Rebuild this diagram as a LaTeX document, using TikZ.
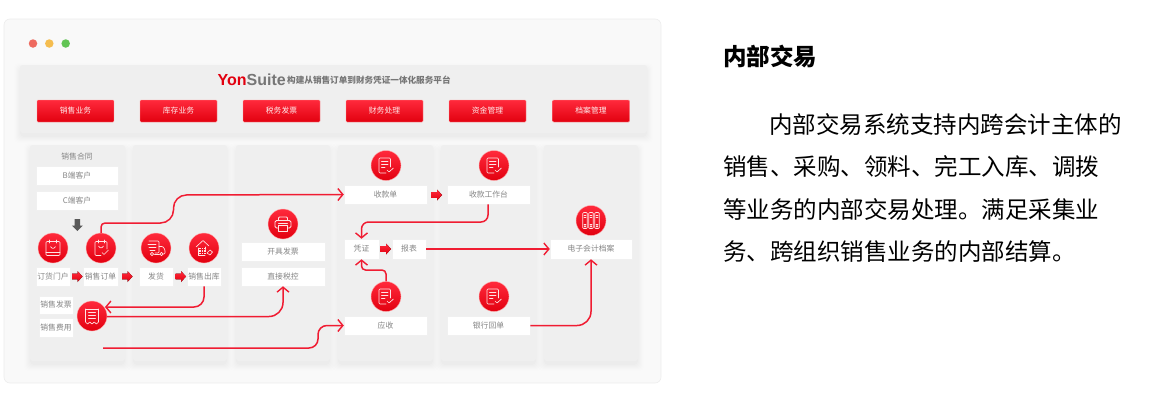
\documentclass[tikz,border=0pt]{standalone}
\usepackage{fontspec}
\setmainfont{Noto Sans CJK SC}
\newfontfamily\logofont{Liberation Sans}
\usetikzlibrary{arrows.meta,calc}
\definecolor{cardbg}{HTML}{F9F9F9}
\definecolor{cardln}{HTML}{EDEDED}
\definecolor{panelbg}{HTML}{EFEFEF}
\definecolor{lbl}{HTML}{858585}
\definecolor{redtop}{HTML}{FF2A3C}
\definecolor{redbot}{HTML}{E2000F}
\definecolor{connred}{HTML}{F01C32}
\definecolor{logogray}{HTML}{767676}
\definecolor{dotr}{HTML}{EE6A5F}
\definecolor{doty}{HTML}{F5BD4F}
\definecolor{dotg}{HTML}{61C454}
\newcommand\fs[1]{\fontsize{#1}{#1}\selectfont}
\tikzset{
  panel/.style={rectangle,rounded corners=2.5pt,fill=panelbg,inner sep=0pt},
  wbox/.style={rectangle,fill=white,draw=black!6,line width=.5pt,inner sep=0pt,text=lbl,font=\fs{7.8}},
  redbtn/.style={rectangle,rounded corners=1pt,top color=redtop,bottom color=redbot,draw=red!40!white,line width=.4pt,inner sep=0pt,text=white!92!red,font=\fs{7.8},minimum width=77pt,minimum height=22pt},
  rcirc/.style={circle,top color=redtop,bottom color=redbot,draw=red!30!white,line width=.4pt,inner sep=0pt,minimum size=30pt},
  conn/.style={draw=connred,line width=1.5pt,-{Straight Barb[length=5pt,width=12pt,line width=1.4pt]}},
  icon/.style={draw=white!90!red,line width=.65pt,line cap=round,line join=round},
  para/.style={anchor=west,inner sep=0pt,text=black,font=\fs{23.5}},
  dot/.style={circle,inner sep=0pt,minimum size=8.5pt},
}
% soft shadow under a panel
\newcommand\softshadow[4]{%
  \foreach \e/\o in {6/.004,5/.005,4/.006,3/.007,2/.008,1/.009,0/.01}{%
    \fill[black,opacity=\o,rounded corners=4pt] ($(#1-\e,#2-\e+4)$) rectangle ($(#3+\e,#4+\e+4)$);
  }}
\newcommand\panelbox[5]{%
  \softshadow{#2}{#3}{#4}{#5}%
  \node[panel,minimum width={#4-#2},minimum height={#5-#3}] (#1) at ({(#2+#4)/2},{(#3+#5)/2}) {};}
\newcommand\bx[6]{\node[wbox,minimum width={#4-#2},minimum height={#5-#3}] (#1) at ({(#2+#4)/2},{(#3+#5)/2}) {#6};}
\newcommand\blockarrow[2]{%
  \fill[top color=redtop,bottom color=redbot,draw=none] (#1,#2-2.8) -- (#1+5.5,#2-2.8) -- (#1+5.5,#2-5.5) -- (#1+10.5,#2) -- (#1+5.5,#2+5.5) -- (#1+5.5,#2+2.8) -- (#1,#2+2.8) -- cycle;}
% icons
\newcommand\icdoc[1]{\begin{scope}[shift={(#1.center)},icon]
  \draw[rounded corners=1pt] (4.5,1.5) -- (4.5,-7.5) -- (-7,-7.5) -- (-7,7.5) -- (0,7.5);
  \draw (-4.5,-4.2)--(2,-4.2) (-4.5,-1.2)--(2,-1.2) (-4.5,1.8)--(-1,1.8);
  \draw (1,4.5)--(3,6.5)--(7.5,2.5);
\end{scope}}
\newcommand\icnote[1]{\begin{scope}[shift={(#1.center)},icon]
  \draw[rounded corners=1pt] (-7,-6.5) rectangle (7,7.5);
  \draw (-3.5,-8)--(-3.5,-5) (3.5,-8)--(3.5,-5);
  \draw (-2.5,-1.5) .. controls (-1,1) and (1,1) .. (2.5,-1.5);
  \draw (-7,4.5)--(7,4.5);
\end{scope}}
\newcommand\icnotecheck[1]{\begin{scope}[shift={(#1.center)},icon]
  \draw[rounded corners=1pt] (6,1) -- (6,-6.5) -- (-6,-6.5) -- (-6,7.5) -- (0,7.5);
  \draw (-3,-8)--(-3,-5) (3,-8)--(3,-5);
  \draw (-2.5,-2) .. controls (-1,.5) and (1,.5) .. (2.5,-2);
  \draw (1,4.5)--(3,6.5)--(7.5,2);
\end{scope}}
\newcommand\ictruck[1]{\begin{scope}[shift={(#1.center)},icon]
  \draw[rounded corners=1pt] (-7,-7) -- (3,-7) -- (3,5) -- (-1,5);
  \draw[rounded corners=1pt] (3,-1.5) -- (7,-1.5) -- (9,2) -- (9,6) -- (7.5,6);
  \draw (-8,-3.5)--(0,-3.5) (-7,-.5)--(0,-.5) (-6,2.5)--(-1,2.5);
  \draw (-4,6) circle (1.7) (5.5,6) circle (1.7);
  \draw (-1.5,6)--(3.5,6);
\end{scope}}
\newcommand\ichouse[1]{\begin{scope}[shift={(#1.center)},icon]
  \draw (-8,-1) -- (-1,-7.5) -- (5,-2);
  \draw (-6,0) -- (-6,7.5) -- (1,7.5);
  \draw (1.5,-1) -- (1.5,1.5);
  \foreach \x in {-4,-1.5,1}{\foreach \y in {.5,3,5.5}{\fill[white!90!red] (\x-.7,\y-.7) rectangle (\x+.7,\y+.7);}}
  \draw (3,5) -- (6,2) -- (8.5,4) -- (6,7) -- cycle;
\end{scope}}
\newcommand\icprinter[1]{\begin{scope}[shift={(#1.center)},icon,line width=.9pt]
  \draw[rounded corners=1pt] (-4.5,-3.5) -- (-4.5,-7) -- (4.5,-7) -- (4.5,-3.5);
  \draw[rounded corners=1.5pt] (-4.5,4) -- (-8,4) -- (-8,-3.5) -- (8,-3.5) -- (8,4) -- (4.5,4);
  \draw (-4.5,1) rectangle (4.5,7);
  \draw (-4.5,-.5)--(4.5,-.5);
\end{scope}}
\newcommand\icreceipt[1]{\begin{scope}[shift={(#1.center)},icon]
  \draw (-6.5,-7) -- (6.5,-7);
  \draw (-6.5,-7) -- (-6.5,6) -- (-4.5,8) -- (-2.2,6) -- (0,8) -- (2.2,6) -- (4.5,8) -- (6.5,6) -- (6.5,-7);
  \draw (-3.5,-3.5)--(3.5,-3.5) (-3.5,-.5)--(3.5,-.5) (-3.5,2.5)--(3.5,2.5);
\end{scope}}
\newcommand\icbinder[1]{\begin{scope}[shift={(#1.center)},icon]
  \foreach \x in {-6,0,6}{
    \draw[rounded corners=1pt] (\x-2.3,-8) rectangle (\x+2.3,8);
    \draw (\x-1,-5)--(\x+1,-5) (\x-1,-3)--(\x+1,-3) (\x-1,3.5)--(\x+1,3.5);
    \draw (\x,5.8) circle (.8);
  }
\end{scope}}
\begin{document}
\begin{tikzpicture}[x=1pt,y=-1pt]
\useasboundingbox (0,0) rectangle (1159,415);
\fill[white] (0,0) rectangle (1159,415);
% outer card
\node[rectangle,rounded corners=6pt,fill=cardbg,draw=cardln,line width=.6pt,inner sep=0pt,minimum width=657pt,minimum height=364pt] (card) at (332.5,201) {};
\node[dot,fill=dotr] (d1) at (33,43.5) {};
\node[dot,fill=doty] (d2) at (49.3,43.5) {};
\node[dot,fill=dotg] (d3) at (65.7,43.5) {};
% columns
\panelbox{p1}{30}{145}{125}{361}
\panelbox{p2}{133}{145}{227}{361}
\panelbox{p3}{236}{145}{330}{361}
\panelbox{p4}{338}{145}{433}{361}
\panelbox{p5}{441}{145}{536}{361}
\panelbox{p6}{544}{145}{638}{361}
% header
\panelbox{hd}{20}{65}{647}{133}
\node[inner sep=0pt,anchor=west,font=\logofont\bfseries\fs{16}] (logo) at (217.5,80) {\textcolor{redbot}{Yon}\textcolor{logogray}{Suite}};
\node[inner sep=0pt,anchor=west,font=\bfseries\fs{8.6},text=logogray] (hdt) at (287,80.5) {构建从销售订单到财务凭证一体化服务平台};
\node[redbtn] (b1) at (75.5,111) {销售业务};
\node[redbtn] (b2) at (178.5,111) {库存业务};
\node[redbtn] (b3) at (281.5,111) {税务发票};
\node[redbtn] (b4) at (384.5,111) {财务处理};
\node[redbtn] (b5) at (487.5,111) {资金管理};
\node[redbtn] (b6) at (591,111) {档案管理};
% column 1
\node[inner sep=0pt,text=lbl,font=\fs{7.8}] (ht) at (77,157) {销售合同};
\bx{kb}{36}{166}{118}{185}{B端客户}
\bx{kc}{36}{191}{118}{210}{C端客户}
\fill[black!65] (74.5,219) -- (80.2,219) -- (80.2,225.5) -- (82.8,225.5) -- (77.3,231) -- (71.8,225.5) -- (74.5,225.5) -- cycle;
\node[rcirc] (c1) at (53,248) {};
\node[rcirc] (c2) at (101,248) {};
\node[rcirc] (c3) at (156,248) {};
\node[rcirc] (c4) at (204,248) {};
\icnote{c1}\icnotecheck{c2}\ictruck{c3}\ichouse{c4}
\bx{m1}{36}{267}{70}{286}{订货门户}
\bx{m2}{83}{267}{118}{286}{销售订单}
\bx{m3}{139}{267}{173}{286}{发货}
\bx{m4}{187}{267}{221}{286}{销售出库}
\blockarrow{72}{276.5}
\blockarrow{122}{276.5}
\blockarrow{175.5}{276.5}
\bx{s1}{39}{296}{73}{314}{销售发票}
\bx{s2}{39}{318}{73}{337}{销售费用}
\node[rcirc] (c5) at (92,316) {};
\icreceipt{c5}
% column 3
\node[rcirc] (c6) at (283,224) {};
\icprinter{c6}
\bx{t1}{241}{242}{325}{261}{开具发票}
\bx{t2}{241}{267}{325}{286}{直接税控}
% column 4
\node[rcirc] (c7) at (386,165.5) {};
\icdoc{c7}
\bx{r1}{344}{185}{427}{204}{收款单}
\bx{v1}{344}{239}{379}{259}{凭证}
\bx{v2}{392}{239}{426}{259}{报表}
\blockarrow{380.5}{249}
\node[rcirc] (c8) at (386,296.5) {};
\icdoc{c8}
\bx{ys}{344}{316}{427}{335}{应收}
% column 5
\node[rcirc] (c9) at (494,165.5) {};
\icdoc{c9}
\bx{r2}{447}{185}{530}{204}{收款工作台}
\blockarrow{431.5}{195}
\node[rcirc] (c10) at (494,296.5) {};
\icdoc{c10}
\bx{yh}{447}{316}{530}{335}{银行回单}
% column 6
\node[rcirc] (c11) at (591,220.5) {};
\icbinder{c11}
\bx{da}{550}{239}{632}{259}{电子会计档案}
% connectors
\coordinate (st) at (103,348);
\coordinate (c5in) at (105,307);
\draw[conn] (c2.north) [rounded corners=4pt] -- (101,223) -- (130,223) [rounded corners=13pt] -- (173.5,223) -- (173.5,195) -- (r1.west);
\draw[conn,rounded corners=10pt] (m4.south) -- (204,307) -- (c5in);
\draw[conn,rounded corners=14pt] ($(c5.east)+(0,.5)$) -- (283,316.5) -- (t2.south);
\draw[conn,rounded corners=9pt] (st) -- (318,348) -- (318,325.5) -- (ys.west);
\draw[conn,rounded corners=7pt] ($(r2.south)+(-.5,0)$) -- (488,222) -- (361.5,222) -- (v1.north);
\draw[conn,rounded corners=4pt] (c8.north) -- (386,270) -- (361.5,270) -- (v1.south);
\draw[conn] (v2.east) -- (da.west);
\draw[conn,rounded corners=14pt] (yh.east) -- (591,325.5) -- (da.south);
% right text
\node[para,font=\bfseries\fs{23.5}] (tt) at (723,56) {内部交易};
\node[para] (l1) at (769,125) {内部交易系统支持内跨会计主体的};
\node[para] (l2) at (723,167) {销售、采购、领料、完工入库、调拨};
\node[para] (l3) at (723,209.5) {等业务的内部交易处理。满足采集业};
\node[para] (l4) at (723,252) {务、跨组织销售业务的内部结算。};
\end{tikzpicture}
\end{document}
